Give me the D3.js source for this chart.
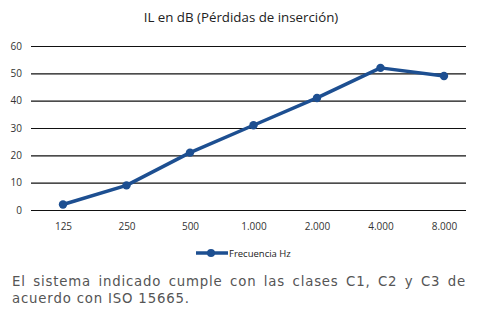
<!DOCTYPE html>
<html><head><meta charset="utf-8">
<script src="https://cdn.jsdelivr.net/npm/d3@7"></script>
<style>body{margin:0;background:#fff}svg{display:block}</style>
</head><body>
<svg id="c" width="493" height="324"></svg>
<script>
const categories = ["125","250","500","1.000","2.000","4.000","8.000"];
const values = [2, 9, 21, 31, 41, 52, 49];
const yTicks = [0,10,20,30,40,50,60];
const title = "IL en dB (Pérdidas de inserción)";
const seriesName = "Frecuencia Hz";
const caption1 = "El sistema indicado cumple con las clases C1, C2 y C3 de";
const caption2 = "acuerdo con ISO 15665.";

const svg = d3.select("#c");
const color = "#1d4f91";
const font = "'Open Sans', sans-serif";
const x = d3.scalePoint().domain(categories).range([63, 444]);
const y = d3.scaleLinear().domain([0,60]).range([210, 46]);

svg.append("text").attr("x", 241).attr("y", 22).attr("text-anchor","middle")
  .attr("font-family", font).attr("font-size", 13.3).attr("fill","#222").text(title);

const yAxis = svg.append("g").attr("transform","translate(31,0)")
  .call(d3.axisLeft(y).tickValues(yTicks).tickSize(-435).tickPadding(9));
yAxis.select(".domain").remove();
yAxis.selectAll(".tick line").attr("stroke","#111").attr("stroke-width",1.2);
yAxis.selectAll(".tick text").attr("font-family",font).attr("font-size",10).attr("fill","#333");

const xAxis = svg.append("g").attr("transform","translate(0,210)")
  .call(d3.axisBottom(x).tickSize(0).tickPadding(13));
xAxis.select(".domain").remove();
xAxis.selectAll(".tick text").attr("font-family",font).attr("font-size",10).attr("fill","#333");

const line = d3.line().x((d,i)=>x(categories[i])).y(d=>y(d));
svg.append("path").datum(values).attr("d", line).attr("fill","none")
  .attr("stroke", color).attr("stroke-width", 3.5).attr("stroke-linejoin","round");
svg.selectAll("circle.pt").data(values).join("circle").attr("class","pt")
  .attr("cx",(d,i)=>x(categories[i])).attr("cy",d=>y(d)).attr("r",4.2).attr("fill",color);

// legend
const lg = svg.append("g");
lg.append("line").attr("x1",196).attr("x2",228).attr("y1",253).attr("y2",253)
  .attr("stroke",color).attr("stroke-width",3.5);
lg.append("circle").attr("cx",211).attr("cy",253).attr("r",4).attr("fill",color);
lg.append("text").attr("x",229).attr("y",257).attr("font-family",font)
  .attr("font-size",9.5).attr("fill","#222").text(seriesName);

// caption
const capFont = "'DejaVu Sans', sans-serif";
const t2 = svg.append("text").attr("x",12).attr("y",303).attr("font-family",capFont)
  .attr("font-size",13.3).attr("fill","#555").text(caption2);
// stretch second line letter spacing to match reference width (~177px)
const w2 = t2.node().getComputedTextLength();
const ls = Math.max(0, (177 - w2) / (caption2.length - 1));
t2.attr("letter-spacing", ls);
const t1 = svg.append("text").attr("x",12).attr("y",286).attr("font-family",capFont)
  .attr("font-size",13.3).attr("fill","#555").attr("letter-spacing", ls).text(caption1);
const w1 = t1.node().getComputedTextLength();
const spaces = caption1.split(" ").length - 1;
t1.attr("word-spacing", (454 - w1) / spaces);
</script>
</body></html>
